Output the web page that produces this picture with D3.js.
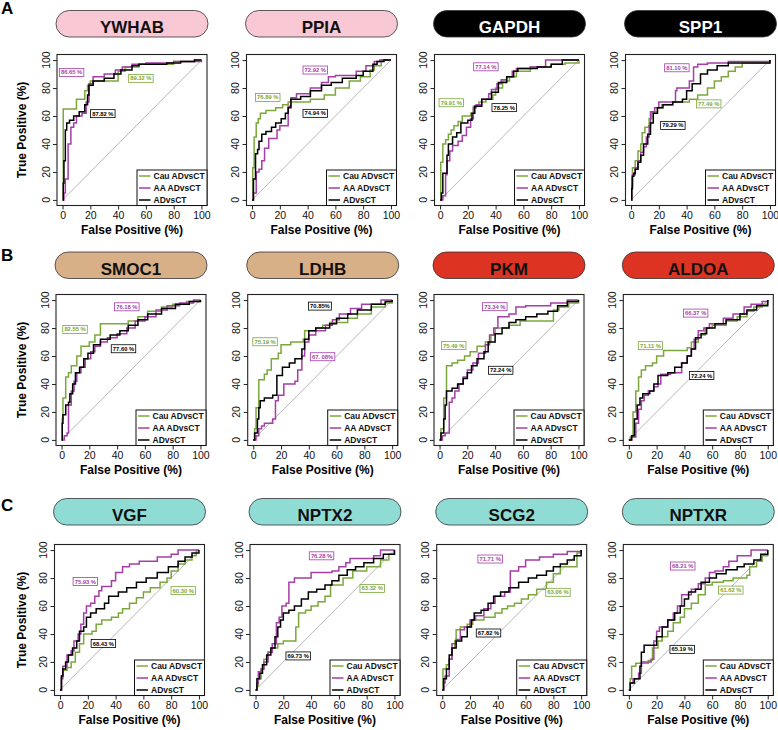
<!DOCTYPE html>
<html><head><meta charset="utf-8">
<script src="https://cdn.jsdelivr.net/npm/d3@7"></script>
<style>body{margin:0;background:#fff} svg{display:block} text{font-family:"Liberation Sans",Arial,Helvetica,sans-serif}</style>
</head><body><svg id="chart" width="778" height="730"></svg>
<script>
// ---------- data ----------
const genes = ["YWHAB","PPIA","GAPDH","SPP1","SMOC1","LDHB","PKM","ALDOA","VGF","NPTX2","SCG2","NPTXR"];
const geneGroups = ["pink","pink","black","black","tan","tan","red","red","cyan","cyan","cyan","cyan"];
const panelLetters = ["A","B","C"];
const seriesNames = ["Cau ADvsCT","AA ADvsCT","ADvsCT"];
const tickValues = [0,20,40,60,80,100];
const aucCauLabels = ["89.32 %","76.89 %","79.91 %","77.49 %","82.55 %","75.19 %","75.49 %","71.11 %","60.30 %","63.32 %","63.06 %","61.62 %"];
const aucAALabels  = ["86.65 %","72.92 %","77.14 %","81.10 %","76.18 %","67. 08%","73.34 %","66.37 %","75.93 %","76.28 %","71.71 %","68.21 %"];
const aucAllLabels = ["87.82 %","74.94 %","78.25 %","79.29 %","77.60 %","70.85%","72.24 %","72.24 %","68.43 %","69.73 %","67.82 %","65.19 %"];

// ROC step points: [FPR %, TPR % reached at that FPR]
const ywhabCau = [[0.5,65],[10,72],[16,78],[18,82],[20,85],[40,92],[45,95],[55,97],[80,99],[95,100]];
const ywhabAA  = [[1,5],[2,15],[4,40],[6,52],[8,55],[10,60],[14,62],[17,70],[19,83],[22,88],[30,90],[38,93],[43,95],[50,97],[60,98],[80,99],[100,100]];
const ywhabAll = [[0.5,12],[1,28],[2,50],[3,55],[5,57],[8,60],[12,63],[16,68],[18,75],[19,82],[22,85],[30,87],[37,90],[42,93],[50,96],[55,97],[75,98],[85,99],[95,100]];
const ppiaCau = [[0.5,23],[1.5,45],[3,55],[4.5,58],[6,62],[10,64],[17,66],[22,68],[26,70],[42,72],[52,75],[60,80],[70,85],[78,88],[85,93],[88,96],[93,100]];
const ppiaAA  = [[1,5],[3,20],[5,22],[7,28],[9,37],[12,44],[18,50],[20,53],[26,67],[28,73],[32,76],[42,80],[50,84],[55,88],[60,89],[75,92],[82,96],[88,99],[92,100]];
const ppiaAll = [[1,15],[2.5,33],[4,36],[5,42],[7,47],[10,49],[14,52],[17,55],[21,58],[24,62],[26,66],[28,72],[35,74],[42,78],[50,82],[57,84],[65,87],[75,89],[80,92],[87,97],[90,99],[95,100]];
const gapdhCau = [[0.5,27],[2,40],[4,43],[6,47],[8,50],[10,53],[13,56],[16,60],[22,62],[24,67],[28,70],[33,72],[38,75],[40,80],[45,85],[50,88],[55,92],[65,95],[80,97],[90,98],[100,100]];
const gapdhAA  = [[2,3],[4,18],[5,28],[7,35],[9,39],[13,42],[16,46],[19,52],[22,58],[24,66],[26,68],[30,72],[35,76],[37,79],[41,83],[44,86],[48,88],[52,92],[55,94],[65,95],[76,100]];
const gapdhAll = [[1,5],[2,19],[5,32],[6,40],[9,45],[12,48],[15,55],[20,57],[23,62],[25,67],[30,72],[37,77],[42,84],[48,88],[53,92],[56,94],[70,95],[80,97],[88,100]];
const spp1Cau = [[0.5,16],[1,23],[3,28],[5,35],[7,40],[8,48],[10,52],[13,58],[15,63],[19,66],[22,68],[30,70],[42,72],[48,75],[55,80],[60,85],[65,88],[70,92],[75,95],[80,98],[100,100]];
const spp1AA  = [[0.5,10],[1,18],[3,23],[5,28],[7,34],[9,38],[11,45],[13,53],[14,63],[17,66],[20,70],[32,78],[33,80],[42,85],[45,95],[48,97],[55,98],[70,99],[100,100]];
const spp1All = [[0.5,8],[1,17],[2,19],[3,22],[5,27],[7,32],[9,40],[12,47],[14,55],[16,62],[19,66],[23,68],[30,70],[37,72],[40,78],[44,83],[50,90],[55,93],[62,96],[70,98],[100,100]];
const smoc1Cau = [[0.5,15],[1,30],[3,45],[5,48],[7,53],[11,60],[14,67],[20,70],[24,75],[28,83],[48,85],[55,88],[62,92],[72,95],[80,97],[90,99],[100,100]];
const smoc1AA  = [[2,3],[4,5],[5,25],[7,35],[9,42],[11,48],[14,52],[17,58],[21,63],[24,67],[28,70],[33,73],[40,76],[47,80],[53,85],[60,88],[68,93],[76,96],[85,98],[95,100]];
const smoc1All = [[0.5,12],[1,18],[3,25],[5,27],[6,33],[8,40],[10,48],[13,52],[16,58],[19,62],[23,68],[28,72],[35,75],[42,78],[48,82],[55,86],[62,90],[72,94],[82,97],[92,99],[100,100]];
const ldhbCau = [[1,8],[2,23],[4,43],[8,47],[10,50],[13,58],[18,62],[20,68],[27,70],[36,72],[37,78],[45,80],[50,82],[55,84],[68,87],[75,90],[85,95],[95,98],[100,100]];
const ldhbAA  = [[2,3],[4,8],[6,10],[8,12],[14,15],[16,28],[18,32],[22,40],[30,42],[32,50],[35,60],[37,70],[40,75],[45,78],[52,82],[57,86],[62,90],[70,94],[78,97],[92,100]];
const ldhbAll = [[1,5],[3,15],[4,23],[5,28],[8,30],[14,32],[17,46],[21,52],[26,55],[30,58],[35,65],[37,72],[40,78],[45,80],[55,83],[60,87],[68,90],[75,93],[85,97],[95,99],[100,100]];
const pkmCau = [[1,8],[3,30],[5,53],[9,55],[13,57],[18,60],[22,63],[27,67],[33,70],[37,75],[40,80],[50,82],[58,85],[82,93],[86,95],[93,98],[100,100]];
const pkmAA  = [[2,3],[4,5],[7,27],[9,30],[11,35],[14,40],[17,45],[20,50],[24,55],[28,62],[33,68],[36,75],[39,80],[42,88],[50,90],[55,95],[62,96],[80,98],[92,100]];
const pkmAll = [[1,5],[3,15],[4,25],[5,35],[9,37],[13,40],[17,44],[20,48],[23,53],[27,58],[32,63],[35,70],[40,76],[45,80],[50,84],[55,86],[62,88],[70,90],[78,92],[85,96],[92,99],[100,100]];
const aldoaCau = [[1,2],[3,20],[5,35],[7,45],[9,50],[12,53],[17,55],[20,60],[25,64],[42,66],[45,70],[50,75],[55,80],[60,82],[70,85],[78,88],[85,92],[90,95],[96,97],[100,100]];
const aldoaAA  = [[2,2],[5,12],[7,22],[9,28],[11,32],[14,35],[18,38],[21,40],[23,47],[30,48],[38,55],[42,60],[45,65],[47,72],[50,78],[54,80],[58,83],[68,87],[75,90],[83,95],[88,97],[96,99],[100,100]];
const aldoaAll = [[2,3],[4,15],[6,25],[8,30],[10,33],[15,35],[18,40],[21,46],[28,48],[33,52],[38,55],[42,60],[45,65],[48,73],[52,76],[56,80],[62,83],[70,86],[80,90],[85,93],[92,96],[100,100]];
const vgfCau = [[1,10],[2,14],[5,16],[8,20],[11,27],[14,33],[17,40],[23,42],[26,47],[30,50],[37,52],[42,55],[45,58],[50,62],[55,66],[60,70],[65,73],[72,77],[77,80],[80,85],[85,90],[90,93],[95,96],[98,100]];
const vgfAA  = [[1,8],[2,17],[5,25],[8,28],[10,35],[13,40],[15,47],[17,55],[19,60],[22,62],[25,67],[28,71],[30,74],[37,78],[40,84],[45,88],[50,90],[57,92],[70,95],[80,97],[85,100]];
const vgfAll = [[1,10],[2,15],[4,20],[6,25],[9,30],[12,35],[14,42],[17,45],[19,52],[22,55],[26,58],[32,62],[35,67],[42,70],[48,73],[55,77],[62,80],[70,84],[78,88],[85,92],[90,95],[95,98],[100,100]];
const nptx2Cau = [[1,3],[2,8],[4,15],[6,22],[9,27],[12,30],[16,33],[20,35],[29,45],[31,55],[36,57],[40,60],[45,63],[50,67],[54,75],[63,80],[70,85],[80,88],[90,93],[96,97],[100,100]];
const nptx2AA  = [[1,5],[2,13],[4,15],[6,20],[9,27],[12,33],[15,48],[17,52],[19,60],[22,62],[24,77],[28,80],[40,84],[55,85],[60,88],[65,91],[68,94],[85,96],[90,100]];
const nptx2All = [[1,8],[3,12],[5,18],[8,25],[11,30],[14,38],[16,45],[18,50],[20,55],[24,57],[28,60],[33,65],[38,70],[44,72],[50,75],[55,78],[60,82],[66,86],[72,88],[78,91],[85,94],[92,97],[100,100]];
const scg2Cau = [[0.5,15],[3,18],[5,22],[7,30],[9,35],[10,43],[13,45],[18,47],[22,50],[30,52],[38,55],[43,58],[47,60],[52,62],[57,65],[62,68],[68,72],[75,77],[80,83],[85,88],[97,98],[100,100]];
const scg2AA  = [[1,5],[2,10],[5,22],[7,33],[10,36],[13,43],[16,45],[20,50],[24,53],[30,58],[35,62],[38,67],[45,70],[49,85],[55,88],[60,93],[70,95],[80,97],[90,99],[100,100]];
const scg2All = [[1,8],[3,15],[5,25],[7,30],[10,35],[14,38],[18,45],[21,50],[23,55],[28,57],[33,62],[37,67],[42,70],[48,73],[55,77],[62,80],[68,82],[75,85],[80,88],[85,90],[90,93],[95,96],[100,100]];
const nptxrCau = [[1,8],[2,17],[5,19],[14,21],[17,30],[21,35],[24,38],[28,42],[32,48],[37,52],[40,58],[45,62],[50,68],[55,75],[60,77],[68,78],[75,80],[85,82],[87,88],[92,92],[96,96],[100,100]];
const nptxrAA  = [[1,5],[3,8],[7,12],[9,20],[16,22],[18,35],[20,42],[22,45],[28,50],[32,55],[35,60],[38,68],[45,72],[50,76],[55,80],[58,84],[62,85],[68,88],[72,92],[78,96],[88,100]];
const nptxrAll = [[1,5],[4,8],[8,17],[9,27],[11,32],[20,38],[24,45],[28,50],[33,55],[37,60],[40,65],[43,70],[48,72],[52,77],[58,80],[63,83],[70,86],[78,88],[83,90],[90,93],[95,97],[100,100]];

// ---------- layout & style ----------
const cauCurves = [ywhabCau,ppiaCau,gapdhCau,spp1Cau,smoc1Cau,ldhbCau,pkmCau,aldoaCau,vgfCau,nptx2Cau,scg2Cau,nptxrCau];
const aaCurves  = [ywhabAA,ppiaAA,gapdhAA,spp1AA,smoc1AA,ldhbAA,pkmAA,aldoaAA,vgfAA,nptx2AA,scg2AA,nptxrAA];
const allCurves = [ywhabAll,ppiaAll,gapdhAll,spp1All,smoc1All,ldhbAll,pkmAll,aldoaAll,vgfAll,nptx2All,scg2All,nptxrAll];
// AUC label anchor positions (data coords) [cau, aa, all]
const labelPos = [
  [[56.4,86.9],[6.5,91.2],[29,61.7]],
  [[11.3,73.3],[45.5,92.9],[45.5,61.9]],
  [[8.1,69.5],[33,95.2],[46.2,66]],
  [[55.9,68.7],[33,94.5],[30.1,53.3]],
  [[9.7,79],[47,95.2],[44.6,65.2]],
  [[8.5,70.2],[49.9,59.5],[48,95.7]],
  [[10.2,67.5],[39.8,95.3],[44,49.8]],
  [[15.5,67.4],[48.1,90.7],[52.4,46]],
  [[88.7,71],[18.2,77.5],[31.2,33.2]],
  [[84,72.6],[47.5,95.9],[30.7,24.3]],
  [[83.3,69.8],[34.5,93.6],[33.3,40.7]],
  [[73.4,71.4],[38.8,88.6],[38.4,29]]
];
const boxLefts = [[57,246.5,434.5,625.5],[56,247.7,434,623.3],[54.5,250,436.7,623.3]];
const boxTops = [54.5,294.5,544.5];
const pillTops = [10.5,252,498.5];
const letterBaselines = [13.5,261,511];
const BW = 150, BH = 151;
const pillFill = {pink:"#f8c8d4", black:"#000000", tan:"#d8b088", red:"#dd3322", cyan:"#8edcd4"};
const colors = ["#7ba83c","#a53ea8","#000000"];
const FONT = '"Liberation Sans",Arial,Helvetica,sans-serif';

const svg = d3.select("#chart");
svg.append("rect").attr("width",778).attr("height",730).attr("fill","#fff");

const stepLine = d3.line().curve(d3.curveStepAfter);

genes.forEach((gene,i)=>{
  const r = Math.floor(i/4), c = i%4;
  const bl = boxLefts[r][c], bt = boxTops[r];
  const x = d3.scaleLinear().domain([-4,104]).range([bl, bl+BW]);
  const y = d3.scaleLinear().domain([-4,104]).range([bt+BH, bt]);
  const g = svg.append("g");

  // pill header
  const grp = geneGroups[i];
  g.append("rect").attr("x",bl-1).attr("y",pillTops[r]).attr("width",BW+2).attr("height",26.5)
    .attr("rx",13.25).attr("fill",pillFill[grp]).attr("stroke","#333").attr("stroke-width",0.8);
  g.append("text").attr("x",bl+BW/2).attr("y",pillTops[r]+22.5).attr("text-anchor","middle")
    .attr("font-size",17).attr("font-weight","bold").attr("fill",grp==="black"?"#fff":"#111").text(gene);

  // diagonal
  g.append("line").attr("x1",x(0)).attr("y1",y(0)).attr("x2",x(100)).attr("y2",y(100))
    .attr("stroke","#b8b8b8").attr("stroke-width",1);

  // curves
  [cauCurves[i], aaCurves[i], allCurves[i]].forEach((pts,k)=>{
    const full = [[0,0]].concat(pts).concat([[100,100]]);
    g.append("path").attr("d", stepLine(full.map(p=>[x(p[0]),y(p[1])])))
      .attr("fill","none").attr("stroke",colors[k]).attr("stroke-width",1.5);
  });

  // box
  g.append("rect").attr("x",bl).attr("y",bt).attr("width",BW).attr("height",BH)
    .attr("fill","none").attr("stroke","#222").attr("stroke-width",1.1);

  // x axis
  const xa = g.append("g").attr("transform",`translate(0,${bt+BH})`)
    .call(d3.axisBottom(x).tickValues(tickValues).tickSize(4).tickPadding(2));
  xa.select(".domain").remove();
  xa.selectAll("line").attr("stroke","#222");
  xa.selectAll("text").attr("font-size",10.5).attr("font-family",FONT).attr("fill","#111");

  // y axis (rotated labels)
  const ya = g.append("g").attr("transform",`translate(${bl},0)`)
    .call(d3.axisLeft(y).tickValues(tickValues).tickSize(4).tickFormat(""));
  ya.select(".domain").remove();
  ya.selectAll("line").attr("stroke","#222");
  tickValues.forEach(t=>{
    g.append("text").attr("transform",`translate(${bl-7.5},${y(t)}) rotate(-90)`)
      .attr("text-anchor","middle").attr("font-size",10.5).attr("fill","#111").text(t);
  });

  // axis titles
  g.append("text").attr("x",bl+BW/2).attr("y",bt+BH+28).attr("text-anchor","middle")
    .attr("font-size",12).attr("font-weight","bold").text("False Positive (%)");
  if (c===0) {
    g.append("text").attr("transform",`translate(26,${bt+BH/2}) rotate(-90)`).attr("text-anchor","middle")
      .attr("font-size",12).attr("font-weight","bold").text("True Positive (%)");
  }

  // AUC labels
  [aucCauLabels[i], aucAALabels[i], aucAllLabels[i]].forEach((lab,k)=>{
    const [px,py] = labelPos[i][k];
    const lg = g.append("g").attr("transform",`translate(${x(px)},${y(py)})`);
    const rect = lg.append("rect").attr("fill","#fff").attr("stroke",colors[k]).attr("stroke-width",0.8);
    const tx = lg.append("text").attr("text-anchor","middle").attr("dy","0.35em")
      .attr("font-size",5.8).attr("font-weight","bold").attr("fill",colors[k]).text(lab);
    const w = tx.node().getComputedTextLength();
    rect.attr("x",-w/2-1.6).attr("y",-4).attr("width",w+3.2).attr("height",8);
  });

  // legend
  const lw = 70, lh = 35.5;
  const lx = bl+BW-lw, ly = bt+BH-lh;
  const leg = g.append("g").attr("transform",`translate(${lx},${ly})`);
  leg.append("rect").attr("width",lw).attr("height",lh).attr("fill","#fff").attr("stroke","#111").attr("stroke-width",1);
  seriesNames.forEach((s,k)=>{
    const yy = 6 + k*12;
    leg.append("line").attr("x1",2).attr("x2",13.5).attr("y1",yy).attr("y2",yy).attr("stroke",colors[k]).attr("stroke-width",1.5);
    leg.append("text").attr("x",16.5).attr("y",yy).attr("dy","0.35em").attr("font-size",8.5)
      .attr("font-weight","bold").attr("fill","#111").text(s);
  });
});

// panel letters
panelLetters.forEach((L,r)=>{
  svg.append("text").attr("x",1).attr("y",letterBaselines[r]).attr("font-size",17)
    .attr("font-weight","bold").attr("fill","#000").text(L);
});
</script></body></html>
